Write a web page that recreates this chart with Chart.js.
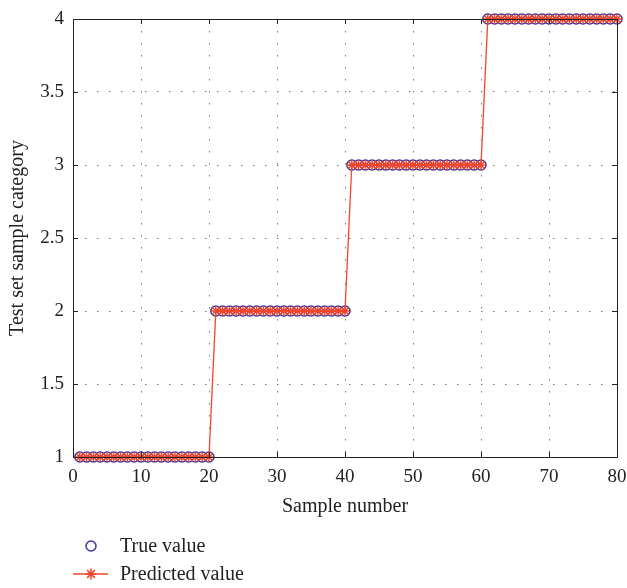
<!DOCTYPE html>
<html>
<head>
<meta charset="utf-8">
<script src="https://cdn.jsdelivr.net/npm/chart.js@4"></script>
<style>
  html, body { margin: 0; padding: 0; background: #fff; }
  #wrap { width: 627px; height: 588px; }
</style>
</head>
<body>
<div id="wrap"><canvas id="canvas" width="627" height="588"></canvas></div>
<script>
// data
const sampleNumbers = [];
for (let i = 1; i <= 80; i++) sampleNumbers.push(i);
const trueValues = [
    1,1,1,1,1,1,1,1,1,1,1,1,1,1,1,1,1,1,1,1,
    2,2,2,2,2,2,2,2,2,2,2,2,2,2,2,2,2,2,2,2,
    3,3,3,3,3,3,3,3,3,3,3,3,3,3,3,3,3,3,3,3,
    4,4,4,4,4,4,4,4,4,4,4,4,4,4,4,4,4,4,4,4
];
const predictedValues = [
    1,1,1,1,1,1,1,1,1,1,1,1,1,1,1,1,1,1,1,1,
    2,2,2,2,2,2,2,2,2,2,2,2,2,2,2,2,2,2,2,2,
    3,3,3,3,3,3,3,3,3,3,3,3,3,3,3,3,3,3,3,3,
    4,4,4,4,4,4,4,4,4,4,4,4,4,4,4,4,4,4,4,4
];
const xTicks = [0, 10, 20, 30, 40, 50, 60, 70, 80];
const yTicks = [1, 1.5, 2, 2.5, 3, 3.5, 4];

const serif = "'Liberation Serif', 'DejaVu Serif', serif";
const blue = "#3a35a0";
const red = "#f0462a";

// frame, inward ticks and the legend below the plot
const framePlugin = {
    id: "frame",
    afterDatasetsDraw(chart) {
        const ctx = chart.ctx;
        const a = chart.chartArea;
        const xs = chart.scales.x, ys = chart.scales.y;
        ctx.save();
        ctx.strokeStyle = "#222";
        ctx.lineWidth = 1;
        ctx.strokeRect(Math.round(a.left) + 0.5, Math.round(a.top) + 0.5,
            Math.round(a.right - a.left), Math.round(a.bottom - a.top));
        ctx.beginPath();
        xTicks.forEach(v => {
            const px = Math.round(xs.getPixelForValue(v)) + 0.5;
            ctx.moveTo(px, a.bottom); ctx.lineTo(px, a.bottom - 5);
            ctx.moveTo(px, a.top); ctx.lineTo(px, a.top + 5);
        });
        yTicks.forEach(v => {
            const py = Math.round(ys.getPixelForValue(v)) + 0.5;
            ctx.moveTo(a.left, py); ctx.lineTo(a.left + 5, py);
            ctx.moveTo(a.right, py); ctx.lineTo(a.right - 5, py);
        });
        ctx.stroke();
        ctx.restore();
    },
    afterDraw(chart) {
        const ctx = chart.ctx;
        ctx.save();
        ctx.font = "20px " + serif;
        ctx.fillStyle = "#222";
        ctx.textBaseline = "middle";
        // true value
        ctx.strokeStyle = blue;
        ctx.lineWidth = 1.5;
        ctx.beginPath();
        ctx.arc(91, 546, 5, 0, Math.PI * 2);
        ctx.stroke();
        ctx.fillText("True value", 120, 547);
        // predicted value
        ctx.strokeStyle = red;
        ctx.beginPath();
        ctx.moveTo(73, 574); ctx.lineTo(108, 574);
        ctx.stroke();
        ctx.beginPath();
        const r = 5.5;
        for (let k = 0; k < 4; k++) {
            const ang = k * Math.PI / 4;
            ctx.moveTo(91 - r * Math.cos(ang), 574 - r * Math.sin(ang));
            ctx.lineTo(91 + r * Math.cos(ang), 574 + r * Math.sin(ang));
        }
        ctx.stroke();
        ctx.fillText("Predicted value", 120, 575);
        ctx.restore();
    }
};

const canvas = document.getElementById("canvas");

const myChartConfig = {
    type: "line",
    data: {
        datasets: [{
            label: "Predicted value",
            data: sampleNumbers.map((x, i) => ({ x: x, y: predictedValues[i] })),
            borderColor: red,
            borderWidth: 1.3,
            pointStyle: "star",
            pointRadius: 5,
            pointBorderColor: red,
            pointBorderWidth: 1.5,
            pointBackgroundColor: red,
            fill: false,
            tension: 0,
            order: 0
        }, {
            label: "True value",
            data: sampleNumbers.map((x, i) => ({ x: x, y: trueValues[i] })),
            showLine: false,
            pointStyle: "circle",
            pointRadius: 5,
            pointBorderColor: blue,
            pointBorderWidth: 1.5,
            pointBackgroundColor: "rgba(0,0,0,0)",
            order: 1
        }]
    },
    plugins: [framePlugin],
    options: {
        responsive: false,
        animation: false,
        clip: false,
        layout: { padding: { top: 19, right: 10, left: 0, bottom: 69 } },
        scales: {
            x: {
                type: "linear",
                min: 0,
                max: 80,
                afterBuildTicks: s => { s.ticks = xTicks.map(v => ({ value: v })); },
                afterFit: s => { s.height = 62; s.paddingLeft = 0; s.paddingRight = 0; },
                border: { display: false, dash: [1.5, 10.5] },
                grid: {
                    color: "#7a7a7a",
                    lineWidth: 1,
                    drawTicks: false
                },
                ticks: {
                    color: "#222",
                    padding: 9,
                    maxRotation: 0,
                    callback: v => String(v),
                    font: { size: 19, family: serif }
                },
                title: {
                    display: true,
                    text: "Sample number",
                    color: "#222",
                    padding: { top: 0, bottom: 0 },
                    font: { size: 20, family: serif }
                }
            },
            y: {
                type: "linear",
                min: 1,
                max: 4,
                afterBuildTicks: s => { s.ticks = yTicks.map(v => ({ value: v })); },
                afterFit: s => { s.width = 73; s.paddingTop = 0; s.paddingBottom = 0; },
                border: { display: false, dash: [1.5, 10.5] },
                grid: {
                    color: "#7a7a7a",
                    lineWidth: 1,
                    drawTicks: false
                },
                ticks: {
                    color: "#222",
                    padding: 9,
                    callback: v => String(v),
                    font: { size: 19, family: serif }
                },
                title: {
                    display: true,
                    text: "Test set sample category",
                    color: "#222",
                    padding: { top: 6, bottom: 0 },
                    font: { size: 20, family: serif }
                }
            }
        },
        plugins: {
            legend: { display: false },
            tooltip: { enabled: false }
        }
    }
};

const myChart = new Chart(canvas.getContext("2d"), myChartConfig);
</script>
</body>
</html>
